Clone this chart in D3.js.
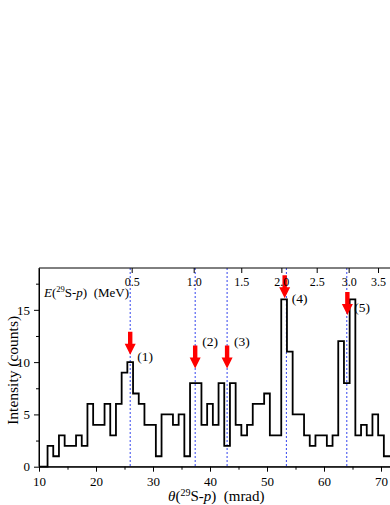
<!DOCTYPE html>
<html>
<head>
<meta charset="utf-8">
<script src="https://cdn.jsdelivr.net/npm/d3@7"></script>
<style>
  html, body { margin: 0; padding: 0; background: #fff; }
  svg { display: block; font-family: "Liberation Serif", "DejaVu Serif", serif; }
</style>
</head>
<body>
<script>
// histogram: bin centres (mrad, 1 mrad wide) and counts
var binCentres = [11,12,13,14,15,16,17,18,19,20,21,22,23,24,25,26,27,28,29,30,
                  31,32,33,34,35,36,37,38,39,40,41,42,43,44,45,46,47,48,49,50,
                  51,52,53,54,55,56,57,58,59,60,61,62,63,64,65,66,67,68,69,70,71];
var counts = [0,2,1,3,2,2,3,2,6,4,4,6,3,6,9,10,7,6,4,4,
              1,5,5,4,5,1,8,8,4,6,4,8,2,8,4,3,4,6,6,7,
              3,3,16,11,5,5,3,2,3,3,2,3,12,8,16,3,4,3,5,3,1];

// resonance marks
var peakNames = ["(1)", "(2)", "(3)", "(4)", "(5)"];
var lineTheta = [26.0, 37.4, 43.0, 53.4, 64.0];
var arrowTheta = [26.0, 37.4, 43.0, 53.1, 64.1];
var arrowTip = [10.7, 9.4, 9.4, 16.1, 14.5];
var labelLevel = [10.1, 11.5, 11.5, 15.7, 14.8];

// axes ticks
var thetaTicks = [10, 20, 30, 40, 50, 60, 70];
var countTicks = [0, 5, 10, 15];
var energyTicks = [0.5, 1.0, 1.5, 2.0, 2.5, 3.0, 3.5];
var energyRef = [0.5, 26.26];   // E (MeV) at theta (mrad), E ~ theta^2

var W = 390, H = 505;
var plotLeft = 39, plotTop = 268, plotBottom = 466.7;

var svg = d3.select("body").append("svg")
  .attr("width", W).attr("height", H);

var x = d3.scaleLinear().domain([10, 72]).range([plotLeft, plotLeft + 62 * 5.7]);
var y = d3.scaleLinear().domain([0, 19]).range([plotBottom, plotTop]);
var xE = d3.scaleSqrt().domain([0, energyRef[0]]).range([x(0), x(energyRef[1])]);

// blue dotted lines
svg.selectAll("line.res").data(lineTheta).enter().append("line")
  .attr("class", "res")
  .attr("x1", function (d) { return x(d); })
  .attr("x2", function (d) { return x(d); })
  .attr("y1", y(19)).attr("y2", y(0))
  .attr("stroke", "#3344ee").attr("stroke-width", 1)
  .attr("stroke-dasharray", "2,2");

// histogram
var pts = [[10, 0]];
binCentres.forEach(function (c, i) { pts.push([c - 0.5, counts[i]]); });
pts.push([72, counts[counts.length - 1]]);
var stepLine = d3.line()
  .x(function (d) { return x(d[0]); })
  .y(function (d) { return y(d[1]); })
  .curve(d3.curveStepAfter);
svg.append("path").datum(pts)
  .attr("d", stepLine)
  .attr("fill", "none").attr("stroke", "#000").attr("stroke-width", 1.8);

// red arrows
var arrows = svg.selectAll("g.arrow").data(arrowTheta).enter().append("g")
  .attr("class", "arrow")
  .attr("transform", function (d, i) { return "translate(" + x(d) + "," + y(arrowTip[i]) + ")"; });
arrows.append("path")
  .attr("d", "M0,0 L-5.5,-11 L-2.2,-11 L-2.2,-23 L2.2,-23 L2.2,-11 L5.5,-11 Z")
  .attr("fill", "#ff0000");

// peak labels
svg.selectAll("text.peak").data(peakNames).enter().append("text")
  .attr("class", "peak")
  .attr("x", function (d, i) { return x(arrowTheta[i]) + 7; })
  .attr("y", function (d, i) { return y(labelLevel[i]); })
  .attr("font-size", 13.5)
  .text(function (d) { return d; });

// frame
svg.append("path")
  .attr("d", "M" + x(72) + "," + plotTop + " L" + plotLeft + "," + plotTop + " L" + plotLeft + "," + plotBottom + " L" + x(72) + "," + plotBottom)
  .attr("fill", "none").attr("stroke", "#000").attr("stroke-width", 1);

// bottom axis
var gx = svg.append("g").attr("transform", "translate(0," + plotBottom + ")")
  .call(d3.axisBottom(x).tickValues(thetaTicks).tickSize(5).tickSizeOuter(0));
svg.append("g").attr("transform", "translate(0," + plotBottom + ")")
  .call(d3.axisBottom(x).tickValues([15, 25, 35, 45, 55, 65]).tickSize(3).tickFormat("").tickSizeOuter(0))
  .select(".domain").remove();

// left axis
var gy = svg.append("g").attr("transform", "translate(" + plotLeft + ",0)")
  .call(d3.axisLeft(y).tickValues(countTicks).tickSize(5).tickSizeOuter(0));
svg.append("g").attr("transform", "translate(" + plotLeft + ",0)")
  .call(d3.axisLeft(y).tickValues([2.5, 7.5, 12.5, 17.5]).tickSize(3).tickFormat("").tickSizeOuter(0))
  .select(".domain").remove();

// top axis (energy), ticks inward
var gt = svg.append("g").attr("transform", "translate(0," + plotTop + ")")
  .call(d3.axisBottom(xE).tickValues(energyTicks).tickSize(5).tickFormat(d3.format(".1f")));
gt.select(".domain").remove();

[gx, gy, gt].forEach(function (g) {
  g.selectAll("text").attr("font-family", "Liberation Serif, serif").attr("font-size", 13).attr("fill", "#000");
  g.selectAll("line").attr("stroke", "#000");
  g.select(".domain").attr("stroke", "#000");
});
gt.selectAll("text").attr("font-size", 12);
gx.selectAll("text").attr("dy", "0.9em");
gt.selectAll("text").attr("dy", "0.8em");
gy.selectAll("text").attr("dx", "-1px");

// energy label inside plot
var eLab = svg.append("text").attr("x", 44).attr("y", 297).attr("font-size", 13);
eLab.append("tspan").attr("font-style", "italic").text("E");
eLab.append("tspan").text("(");
eLab.append("tspan").attr("font-size", 8.5).attr("dy", -5).text("29");
eLab.append("tspan").attr("dy", 5).text("S-");
eLab.append("tspan").attr("font-style", "italic").text("p");
eLab.append("tspan").text(")\u00a0 (MeV)");

// x axis title
var xLab = svg.append("text").attr("x", 168).attr("y", 501).attr("font-size", 15);
xLab.append("tspan").attr("font-style", "italic").text("\u03b8");
xLab.append("tspan").text("(");
xLab.append("tspan").attr("font-size", 10).attr("dy", -5).text("29");
xLab.append("tspan").attr("dy", 5).text("S-");
xLab.append("tspan").attr("font-style", "italic").text("p");
xLab.append("tspan").text(")\u00a0 (mrad)");

// y axis title
svg.append("text")
  .attr("transform", "translate(18," + ((plotTop + plotBottom) / 2 + 3) + ") rotate(-90)")
  .attr("text-anchor", "middle").attr("font-size", 15.5)
  .text("Intensity (counts)");
</script>
</body>
</html>
